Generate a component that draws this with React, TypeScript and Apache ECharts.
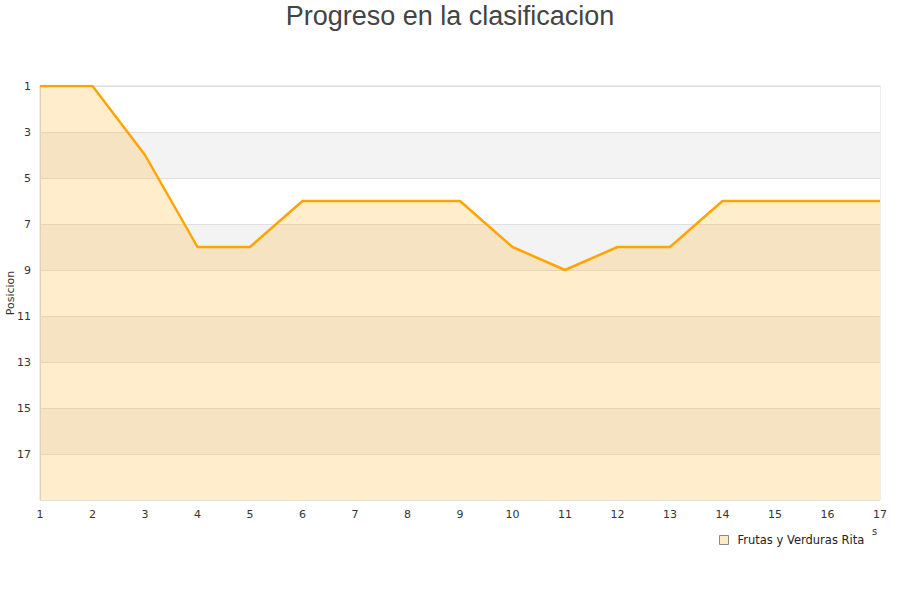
import React, { useEffect, useRef } from "react";
import * as echarts from "echarts";

const jornadas = [1, 2, 3, 4, 5, 6, 7, 8, 9, 10, 11, 12, 13, 14, 15, 16, 17];
const posiciones = [1, 1, 4, 8, 8, 6, 6, 6, 6, 8, 9, 8, 8, 6, 6, 6, 6];
const seriesName = "Frutas y Verduras Rita";
const titleText = "Progreso en la clasificacion";
const yAxisName = "Posicion";

export default function App() {
  const ref = useRef<HTMLDivElement>(null);
  useEffect(() => {
    if (!ref.current) return;
    const chart = echarts.init(ref.current, null, { renderer: "svg" });
    const data = jornadas.map((j, i) => [j, posiciones[i] - 1]);
    chart.setOption({
      animation: false,
      title: {
        text: titleText,
        left: "center",
        top: -3,
        textStyle: {
          fontFamily: "Liberation Sans",
          fontSize: 27,
          fontWeight: "normal",
          color: "#444",
        },
      },
      legend: {
        data: [seriesName],
        left: 714,
        top: 529,
        icon: "rect",
        itemWidth: 9,
        itemHeight: 9,
        itemGap: 6,
        textStyle: { fontFamily: "DejaVu Sans", fontSize: 11.5, color: "#222", padding: [0, 0, 0, 4] },
        itemStyle: { color: "#FDEBC6", borderColor: "#888", borderWidth: 1 },
      },
      grid: {
        left: 40,
        right: 20,
        top: 86,
        bottom: 100,
        show: true,
        borderColor: "#ddd",
        borderWidth: 1,
        containLabel: false,
        outerBoundsMode: "none",
      },
      xAxis: {
        type: "value",
        min: 1,
        max: 17,
        interval: 1,
        axisLine: { show: true, lineStyle: { color: "#ddd" } },
        axisTick: { show: false },
        splitLine: { show: false },
        axisLabel: {
          fontFamily: "DejaVu Sans",
          fontSize: 11,
          color: "#333",
          margin: 9,
        },
      },
      yAxis: {
        type: "value",
        inverse: true,
        min: 0,
        max: 18,
        interval: 2,
        name: yAxisName,
        nameLocation: "middle",
        nameGap: 24,
        nameMoveOverlap: false,
        nameTextStyle: { fontFamily: "DejaVu Sans", fontSize: 11, color: "#333" },
        axisLine: { show: true, lineStyle: { color: "#ddd" } },
        axisTick: { show: false },
        axisLabel: {
          fontFamily: "DejaVu Sans",
          fontSize: 11,
          color: "#333",
          margin: 9,
          formatter: (v: number) => (v >= 18 ? "" : String(v + 1)),
        },
        splitLine: { show: true, lineStyle: { color: "#e0e0e0" } },
        splitArea: { show: true, areaStyle: { color: ["#ffffff", "#f3f3f3"] } },
      },
      series: [
        {
          name: seriesName,
          type: "line",
          data,
          showSymbol: false,
          symbol: "none",
          lineStyle: { color: "#FFA500", width: 2.5 },
          itemStyle: { color: "#FDEBC6", borderColor: "#888" },
          areaStyle: { color: "rgba(255,165,0,0.2)", opacity: 1, origin: "end" },
        },
      ],
      graphic: [
        {
          type: "text",
          left: 872,
          top: 526,
          style: { text: "s", fontFamily: "DejaVu Sans", fontSize: 10, fill: "#333" },
        },
      ],
    });
    return () => chart.dispose();
  }, []);
  return (
    <div
      ref={ref}
      style={{ position: "absolute", left: 0, top: 0, width: 900, height: 600 }}
    />
  );
}
